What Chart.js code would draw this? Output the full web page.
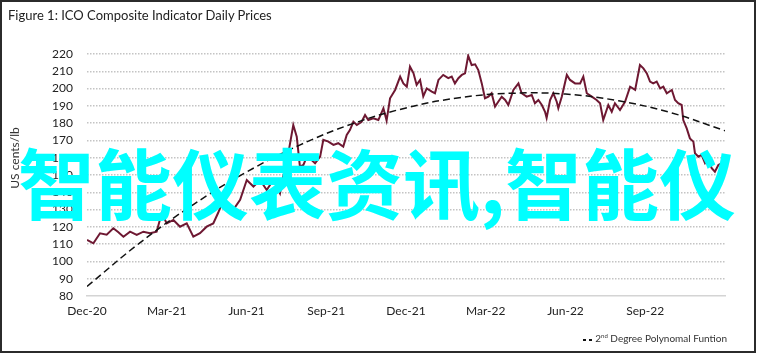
<!DOCTYPE html>
<html>
<head>
<meta charset="utf-8">
<script src="https://cdn.jsdelivr.net/npm/chart.js@4/dist/chart.umd.min.js"></script>
<style>
  html, body { margin: 0; padding: 0; background: #fff; }
  #wrap { position: relative; width: 762px; height: 356px; overflow: hidden; }
  #frame { position: absolute; left: 0; top: 0; width: 756px; height: 353px; box-sizing: border-box; border: 2px solid #2b2b2b; }
  #title { position: absolute; left: 8px; top: 7px; font: 13px Lato, "DejaVu Sans", sans-serif; color: #222; white-space: nowrap; }
  #ytitle { position: absolute; left: 14px; top: 158px; transform: translate(-50%, -50%) rotate(-90deg); font: 12px Lato, sans-serif; color: #333; white-space: nowrap; }
  #legend { position: absolute; right: 35px; top: 332px; font: 10px Lato, sans-serif; color: #333; white-space: nowrap; }
  #legend .sw { display: inline-block; width: 9px; height: 2px; vertical-align: middle; margin-right: 3px; background: repeating-linear-gradient(to right, #111 0 3px, transparent 3px 6px); }
  #legend sup { font-size: 6px; }
  #wm { position: absolute; left: 18px; top: 142px; font: 700 77px "Noto Sans CJK SC", sans-serif; line-height: 77px; color: #00ffff; white-space: nowrap; }
  canvas { position: absolute; left: 0; top: 0; }
</style>
</head>
<body>
<div id="wrap">
  <canvas id="c" width="762" height="356"></canvas>
  <div id="frame"></div>
  <div id="title">Figure 1: ICO Composite Indicator Daily Prices</div>
  <div id="ytitle">US cents/lb</div>
  <div id="legend"><span class="sw"></span>2<sup>nd</sup> Degree Polynomal Funtion</div>
  <div id="wm">智能仪表资讯,智能仪</div>
</div>
<script>
// Months since 1 Dec 2020
const months = [0,0.24,0.49,0.74,0.99,1.17,1.37,1.62,1.87,2.12,2.37,2.62,2.81,3.00,3.25,3.50,3.75,4.00,4.25,4.50,4.75,4.93,5.13,5.32,5.50,5.76,6.01,6.26,6.51,6.76,7.01,7.26,7.38,7.51,7.64,7.76,7.89,8.01,8.14,8.27,8.45,8.58,8.77,8.89,9.08,9.27,9.45,9.64,9.77,9.89,10.02,10.15,10.33,10.46,10.58,10.77,10.96,11.15,11.27,11.40,11.59,11.78,11.90,12.03,12.15,12.28,12.40,12.53,12.65,12.78,12.97,13.09,13.22,13.40,13.59,13.72,13.84,13.97,14.10,14.22,14.34,14.47,14.60,14.72,14.85,14.97,15.10,15.22,15.35,15.47,15.60,15.73,15.85,16.04,16.23,16.35,16.54,16.73,16.85,16.98,17.11,17.23,17.29,17.42,17.54,17.67,17.73,17.86,18.05,18.17,18.36,18.55,18.67,18.80,18.99,19.17,19.30,19.42,19.61,19.74,19.86,20.05,20.24,20.43,20.62,20.80,20.93,21.06,21.18,21.30,21.43,21.56,21.68,21.81,22.00,22.12,22.24,22.37,22.43,22.56,22.68,22.81,22.87,23.00,23.12,23.25,23.37,23.50,23.62,23.75,23.88,24.00];
const prices = [112.4,110.5,116.3,115.5,119.2,117.0,114.3,117.2,115.3,117.2,116.3,117.2,127.9,122.0,124.0,120.1,122.0,114.3,116.3,120.1,122.0,128.0,135.6,131.7,129.8,135.6,147.1,143.3,147.1,141.3,147.1,139.4,149.0,156.8,168.4,178.9,172.2,154.8,155.8,160.6,158.7,156.8,160.6,170.3,169.3,167.4,168.4,166.4,173.2,176.0,180.8,178.9,180.8,184.7,181.8,182.8,181.8,188.6,181.5,194.4,199.2,206.9,203.0,201.1,212.7,209.0,202.1,205.0,195.5,200.1,198.2,197.3,205.0,207.9,206.0,206.9,203.0,206.0,207.9,208.8,219.0,213.6,214.0,210.7,203.0,194.4,195.3,197.3,189.6,192.4,195.3,193.4,190.5,199.2,203.0,197.3,195.3,196.3,191.5,193.4,190.5,186.6,183.0,193.4,197.3,192.4,188.6,195.3,207.9,205.0,203.0,203.0,206.9,197.3,195.3,193.4,191.5,181.8,190.5,186.6,191.5,187.6,192.4,201.1,199.2,213.6,211.7,208.8,204.0,203.0,204.0,200.1,201.1,197.3,199.2,193.4,191.5,190.5,181.8,177.0,171.2,169.3,162.6,160.6,161.6,156.8,158.7,153.9,151.9,155.8,156.8,158.7];

const trendMonths = [0,2,4,6,8,10,12,14,16,18,20,22,24];
const trendValues = [85.5,110.9,132.9,151.7,167.3,179.7,188.8,194.7,197.3,196.8,192.9,185.9,175.6];

const tickMonths = [0,3,6,9,12,15,18,21];
const tickLabels = ['Dec-20','Mar-21','Jun-21','Sep-21','Dec-21','Mar-22','Jun-22','Sep-22'];

const yMin = 80, yMax = 220, yStep = 10;

const FONT = 'Lato, "DejaVu Sans", sans-serif';

new Chart(document.getElementById('c'), {
  type: 'line',
  data: {
    datasets: [
      {
        label: '2nd Degree Polynomal Funtion',
        data: trendMonths.map((m, i) => ({ x: m, y: trendValues[i] })),
        borderColor: '#111',
        borderWidth: 1.5,
        borderDash: [7, 4],
        pointRadius: 0,
        tension: 0.4,
        fill: false
      },
      {
        label: 'ICO Composite Indicator',
        data: months.map((m, i) => ({ x: m, y: prices[i] })),
        borderColor: '#6e1832',
        borderWidth: 2,
        pointRadius: 0,
        tension: 0,
        fill: false
      }
    ]
  },
  options: {
    responsive: false,
    animation: false,
    layout: { padding: { left: 0, top: 54, right: 37, bottom: 0 } },
    plugins: { legend: { display: false }, tooltip: { enabled: false }, title: { display: false } },
    scales: {
      x: {
        type: 'linear',
        min: 0,
        max: 24,
        afterBuildTicks: (s) => { s.ticks = tickMonths.map(v => ({ value: v })); },
        afterFit: (s) => { s.height = 60; },
        ticks: {
          autoSkip: false,
          maxRotation: 0,
          padding: 8,
          color: '#222',
          font: { family: FONT, size: 12 },
          callback: (v) => { const i = tickMonths.indexOf(v); return i >= 0 ? tickLabels[i] : ''; }
        },
        grid: { display: false, drawTicks: false },
        border: { display: true, color: '#d4d4d4', width: 1.5 }
      },
      y: {
        min: yMin,
        max: yMax,
        afterFit: (s) => { s.width = 87; },
        afterBuildTicks: (s) => {
          const t = [];
          for (let v = yMin; v <= yMax; v += yStep) t.push({ value: v });
          s.ticks = t;
        },
        ticks: {
          autoSkip: false,
          stepSize: yStep,
          padding: 14,
          color: '#222',
          font: { family: FONT, size: 12 }
        },
        grid: {
          drawTicks: false,
          lineWidth: 1.5,
          color: (ctx) => (ctx.tick && ctx.tick.value === yMin) ? 'rgba(0,0,0,0)' : '#c4c4c4'
        },
        border: { display: false, dash: [1.5, 1.5] }
      }
    }
  }
});
</script>
</body>
</html>
